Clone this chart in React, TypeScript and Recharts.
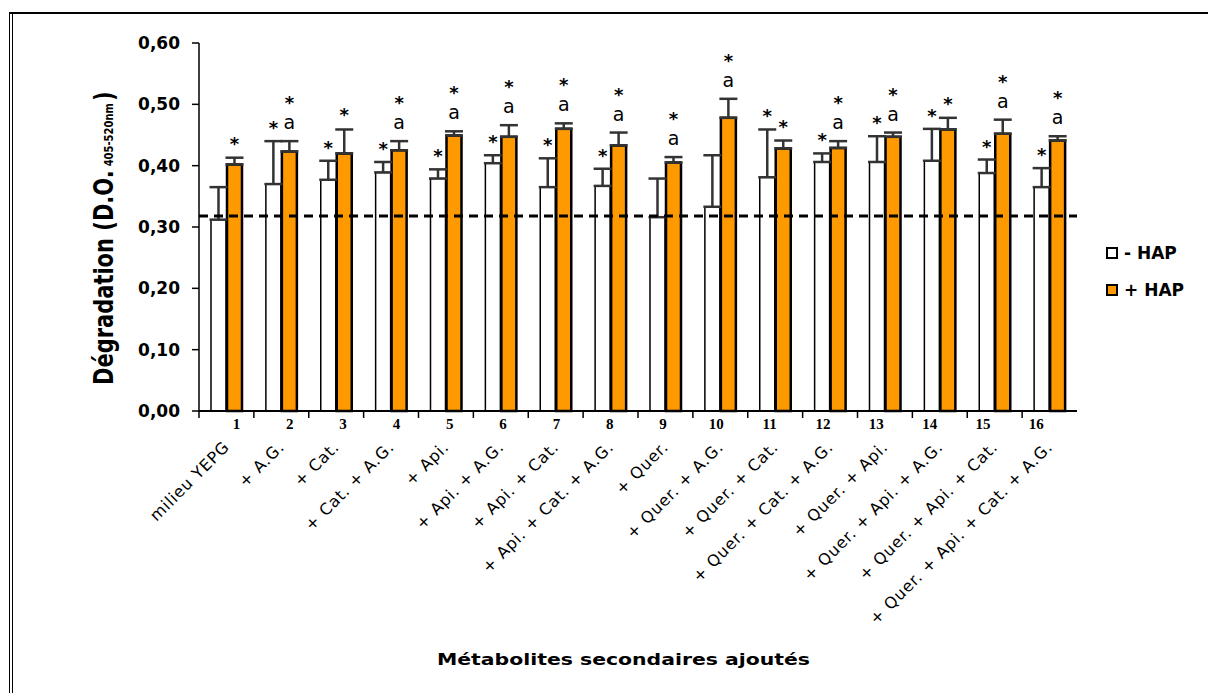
import React from "react";
import { BarChart, Bar, XAxis, YAxis, ErrorBar, LabelList, ReferenceLine } from "recharts";

const categories = [
  "milieu YEPG",
  "+ A.G.",
  "+ Cat.",
  "+ Cat. + A.G.",
  "+ Api.",
  "+ Api. + A.G.",
  "+ Api. + Cat.",
  "+ Api. + Cat. + A.G.",
  "+ Quer.",
  "+ Quer. + A.G.",
  "+ Quer. + Cat.",
  "+ Quer. + Cat. + A.G.",
  "+ Quer. + Api.",
  "+ Quer. + Api. + A.G.",
  "+ Quer. + Api. + Cat.",
  "+ Quer. + Api. + Cat. + A.G."
];
const caseNumbers = ["1", "2", "3", "4", "5", "6", "7", "8", "9", "10", "11", "12", "13", "14", "15", "16"];

// - HAP (white) and + HAP (orange), with upper error
const minusHap = [0.312, 0.37, 0.377, 0.389, 0.379, 0.404, 0.365, 0.367, 0.316, 0.333, 0.381, 0.406, 0.406, 0.408, 0.388, 0.365];
const minusHapErr = [0.053, 0.07, 0.031, 0.017, 0.015, 0.013, 0.047, 0.028, 0.063, 0.084, 0.078, 0.014, 0.042, 0.052, 0.022, 0.031];
const plusHap = [0.402, 0.423, 0.42, 0.425, 0.449, 0.447, 0.46, 0.433, 0.405, 0.478, 0.428, 0.429, 0.447, 0.459, 0.452, 0.441];
const plusHapErr = [0.011, 0.017, 0.039, 0.015, 0.007, 0.019, 0.009, 0.021, 0.009, 0.031, 0.013, 0.011, 0.007, 0.019, 0.023, 0.007];

// significance marks above the bars
const minusMarks = ["", "*", "*", "*", "*", "*", "*", "*", "", "", "*", "*", "*", "*", "*", "*"];
const plusMarks = ["*", "*a", "*", "*a", "*a", "*a", "*a", "*a", "*a", "*a", "*", "*a", "*a", "*", "*a", "*a"];

const controlLevel = 0.318;
const yTicks = [0, 0.1, 0.2, 0.3, 0.4, 0.5, 0.6];

const ORANGE = "#FF9900";

const data = categories.map((name, i) => ({
  name,
  minus: minusHap[i],
  plus: plusHap[i],
  minusErr: [0, minusHapErr[i]],
  plusErr: [0, plusHapErr[i]]
}));

const BAND = 878 / categories.length;

function CatTick(props: any) {
  const { x, y, payload, index } = props;
  const half = BAND / 2;
  return (
    <g>
      <line x1={x - half} y1={y} x2={x - half} y2={y + 7} stroke="#000" strokeWidth={1.5} />
      <text
        x={x + 10 - 1.55 * index}
        y={y + 18}
        textAnchor="middle"
        fontFamily="Liberation Serif"
        fontWeight="bold"
        fontSize={15}
        fill="#000"
      >
        {caseNumbers[index]}
      </text>
      <text
        transform={`translate(${x + 4},${y + 37}) rotate(-45)`}
        textAnchor="end"
        fontFamily="DejaVu Sans"
        fontSize={16}
        letterSpacing={0.8}
        fill="#000"
      >
        {payload.value}
      </text>
    </g>
  );
}

function makeMarks(marks: string[], errs: number[], single: number) {
  return (props: any) => {
    const { x, y, width, height, index, value } = props;
    const m = marks[index];
    if (!m) return null;
    const perUnit = height / value;
    const errTop = y - errs[index] * perUnit;
    const cx = x + width / 2;
    if (m === "*") {
      return (
        <text x={cx} y={errTop - single + 10} textAnchor="middle" fontFamily="DejaVu Sans" fontWeight="bold" fontSize={18} fill="#000">
          *
        </text>
      );
    }
    return (
      <g>
        <text x={cx} y={errTop - 18 + 6} textAnchor="middle" fontFamily="DejaVu Sans" fontSize={19} fill="#000">
          a
        </text>
        <text x={cx} y={errTop - 42 + 10} textAnchor="middle" fontFamily="DejaVu Sans" fontWeight="bold" fontSize={18} fill="#000">
          *
        </text>
      </g>
    );
  };
}

function YTitle() {
  return (
    <text
      transform="translate(113,385) scale(1.3,1) rotate(-90)"
      fontFamily="DejaVu Sans"
      fontWeight="bold"
      fontSize={21}
      fill="#000"
    >
      Dégradation (D.O.
      <tspan fontSize={10} dx={4}>405-520nm</tspan>
      <tspan fontSize={21} dx={2}>)</tspan>
    </text>
  );
}

function XTitle() {
  return (
    <text
      x={437}
      y={665}
      fontFamily="DejaVu Sans"
      fontWeight="bold"
      fontSize={15}
      textLength={373}
      lengthAdjust="spacingAndGlyphs"
      fill="#000"
    >
      Métabolites secondaires ajoutés
    </text>
  );
}

const legendItems = [
  { label: "- HAP", color: "#fff" },
  { label: "+ HAP", color: ORANGE }
];

export default function App() {
  return (
    <div style={{ position: "absolute", left: 0, top: 0, width: 1208, height: 693, background: "#fff" }}>
      <div style={{ position: "absolute", left: 9, top: 12, width: 1199, height: 2, background: "#000" }} />
      <div style={{ position: "absolute", left: 9, top: 12, width: 1, height: 681, background: "#000" }} />
      <div style={{ position: "absolute", left: 12, top: 12, width: 1, height: 681, background: "#000" }} />
      <BarChart
        width={1208}
        height={693}
        data={data}
        margin={{ top: 43, right: 131, bottom: 42, left: 0 }}
        barSize={15}
        barGap={1}
      >
        <YAxis
          width={199}
          domain={[0, 0.6]}
          ticks={yTicks}
          interval={0}
          axisLine={{ stroke: "#000", strokeWidth: 1.5 }}
          tickLine={{ stroke: "#000", strokeWidth: 1.5 }}
          tickSize={7}
          tickMargin={12}
          tick={{ fill: "#000", fontSize: 17, fontWeight: "bold", fontFamily: "DejaVu Sans" }}
          tickFormatter={(v: number) => v.toFixed(2).replace(".", ",")}
          label={<YTitle />}
        />
        <XAxis
          dataKey="name"
          height={240}
          interval={0}
          axisLine={{ stroke: "#000", strokeWidth: 2 }}
          tickLine={false}
          tickSize={0}
          tickMargin={0}
          tick={<CatTick />}
          label={<XTitle />}
        />
        <Bar dataKey="minus" name="- HAP" fill="#fff" stroke="#000" strokeWidth={1.5} isAnimationActive={false}>
          <ErrorBar dataKey="minusErr" width={9} stroke="#333" strokeWidth={2.5} direction="y" />
          <LabelList dataKey="minus" content={makeMarks(minusMarks, minusHapErr, 17)} />
        </Bar>
        <Bar dataKey="plus" name="+ HAP" fill={ORANGE} stroke="#000" strokeWidth={2.5} isAnimationActive={false}>
          <ErrorBar dataKey="plusErr" width={9} stroke="#333" strokeWidth={2.5} direction="y" />
          <LabelList dataKey="plus" content={makeMarks(plusMarks, plusHapErr, 18)} />
        </Bar>
        <ReferenceLine y={controlLevel} stroke="#000" strokeWidth={3} strokeDasharray="9 6" />
      </BarChart>
      <div
        style={{
          position: "absolute",
          left: 1106,
          top: 234,
          fontFamily: "DejaVu Sans",
          fontWeight: "bold",
          fontSize: 17
        }}
      >
        {legendItems.map((it) => (
          <div key={it.label} style={{ display: "flex", alignItems: "center", height: 37 }}>
            <span
              style={{
                width: 8,
                height: 8,
                border: "2px solid #000",
                background: it.color,
                display: "inline-block",
                marginRight: 6
              }}
            />
            <span>{it.label}</span>
          </div>
        ))}
      </div>
    </div>
  );
}
